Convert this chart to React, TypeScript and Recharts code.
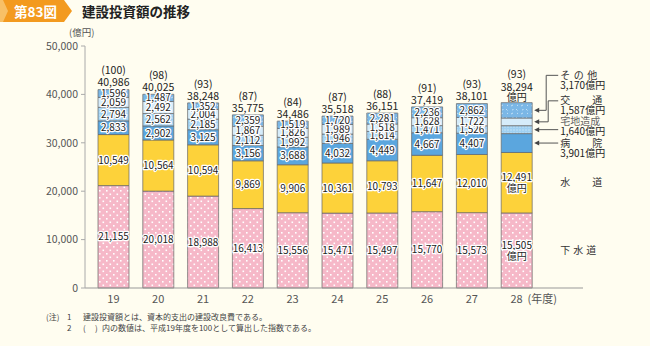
import React from 'react';
import { BarChart, Bar, XAxis, YAxis, LabelList } from 'recharts';

const years = ['19', '20', '21', '22', '23', '24', '25', '26', '27', '28'];
const gesui = [21155, 20018, 18988, 16413, 15556, 15471, 15497, 15770, 15573, 15505];
const suido = [10549, 10564, 10594, 9869, 9906, 10361, 10793, 11647, 12010, 12491];
const byoin = [2833, 2902, 3125, 3156, 3688, 4032, 4449, 4667, 4407, 3901];
const takuchi = [2794, 2562, 2185, 2112, 1992, 1946, 1614, 1471, 1526, 1640];
const kotsu = [2059, 2492, 2004, 1867, 1826, 1989, 1518, 1628, 1722, 1587];
const sonota = [1596, 1487, 1352, 2359, 1519, 1720, 2281, 2236, 2862, 3170];
const totals = [40986, 40025, 38248, 35775, 34486, 35518, 36151, 37419, 38101, 38294];
const indexes = [100, 98, 93, 87, 84, 87, 88, 91, 93, 93];
const yTicks = [0, 10000, 20000, 30000, 40000, 50000];

const data = years.map((year, i) => ({
    year,
    gesui: gesui[i],
    suido: suido[i],
    byoin: byoin[i],
    takuchi: takuchi[i],
    kotsu: kotsu[i],
    sonota: sonota[i],
}));

const FONT = '"Noto Sans CJK JP", "Noto Sans", sans-serif';
const fmt = (v: number) => v.toLocaleString('en-US');
const LAST = years.length - 1;

const halo: React.CSSProperties = {
    paintOrder: 'stroke',
    stroke: '#fff',
    strokeWidth: 2.5,
    strokeLinejoin: 'round',
};

// annotation layout for the last bar (offsets relative to the segment centre)
const series = [
    { key: 'gesui', values: gesui, fill: 'url(#pinkDots)', name: '下水道', nameLen: 36, kind: 'plain' },
    { key: 'suido', values: suido, fill: '#fdd23a', name: '水道', nameLen: 42, kind: 'plain' },
    { key: 'byoin', values: byoin, fill: '#5ba6de', name: '病院', nameLen: 42, kind: 'arrow', elbow: 0, nameDy: 0, amtDy: 10.5 },
    { key: 'takuchi', values: takuchi, fill: 'url(#blueDots)', name: '宅地造成', nameLen: 0, kind: 'arrow', elbow: 0, nameDy: -8.5, amtDy: 1.5 },
    { key: 'kotsu', values: kotsu, fill: '#d6ecfa', name: '交通', nameLen: 42, kind: 'arrow', elbow: 16, nameDy: -21, amtDy: -11 },
    { key: 'sonota', values: sonota, fill: 'url(#sparkle)', name: 'その他', nameLen: 37, kind: 'arrow', elbow: 14, nameDy: -35, amtDy: -25 },
];

const box = (props: any) => (props.viewBox && props.viewBox.width != null ? props.viewBox : props);

const makeSegLabel = (s: any) => (props: any) => {
    const { x, y, width, height } = box(props);
    const index = props.index;
    const cx = x + width / 2;
    const cy = y + height / 2;
    const v = s.values[index];
    if (index !== LAST) {
        return (
            <text x={cx} y={cy} dy="0.36em" textAnchor="middle" fontSize={10} fill="#222" fontFamily={FONT} style={halo}>
                {fmt(v)}
            </text>
        );
    }
    const right = x + width;
    const tx = right + 28;
    const nameProps = s.nameLen
        ? { textLength: s.nameLen, lengthAdjust: 'spacing' as const }
        : {};
    if (s.kind === 'plain') {
        return (
            <g fontFamily={FONT}>
                <text x={cx} y={cy - 5} dy="0.36em" textAnchor="middle" fontSize={10} fill="#222" style={halo}>{fmt(v)}</text>
                <text x={cx} y={cy + 5.5} dy="0.36em" textAnchor="middle" fontSize={10} fill="#222" style={halo}>億円</text>
                <text x={tx} y={cy} dy="0.36em" fontSize={10} fill="#333" {...nameProps}>{s.name}</text>
            </g>
        );
    }
    const lineY = s.elbow ? cy + s.nameDy : cy;
    const path = s.elbow
        ? `M${right + 6},${cy}H${right + s.elbow}V${lineY}H${right + 26}`
        : `M${right + 6},${cy}H${right + 26}`;
    return (
        <g fontFamily={FONT}>
            <path d={path} fill="none" stroke="#555" strokeWidth={1} />
            <polygon points={`${right + 2},${cy} ${right + 7},${cy - 2.5} ${right + 7},${cy + 2.5}`} fill="#444" />
            <text x={tx} y={cy + s.nameDy} dy="0.36em" fontSize={10} fill={s.key === 'takuchi' ? '#666' : '#333'} {...nameProps}>{s.name}</text>
            <text x={tx} y={cy + s.amtDy} dy="0.36em" fontSize={10} fill="#222">{fmt(v)}億円</text>
        </g>
    );
};

const TopLabel = (props: any) => {
    const { x, y, width } = box(props);
    const index = props.index;
    const cx = x + width / 2;
    if (index === LAST) {
        return (
            <g fontFamily={FONT} fontSize={10.5} fill="#222" textAnchor="middle">
                <text x={cx} y={y - 28} dy="0.36em">({indexes[index]})</text>
                <text x={cx} y={y - 15} dy="0.36em">{fmt(totals[index])}</text>
                <text x={cx} y={y - 5} dy="0.36em" fontSize={10}>億円</text>
            </g>
        );
    }
    return (
        <g fontFamily={FONT} fontSize={10.5} fill="#222" textAnchor="middle">
            <text x={cx} y={y - 19} dy="0.36em">({indexes[index]})</text>
            <text x={cx} y={y - 7} dy="0.36em">{fmt(totals[index])}</text>
        </g>
    );
};

const XTick = (props: any) => {
    const { x, y, payload, index } = props;
    return (
        <g fontFamily={FONT} fontSize={11} fill="#555">
            <text x={x} y={y} dy="0.71em" textAnchor="middle">{payload.value}</text>
            {index === LAST && (
                <text x={x + 11} y={y} dy="0.71em" textAnchor="start">(年度)</text>
            )}
        </g>
    );
};

const note: React.CSSProperties = { position: 'absolute', fontSize: 8, color: '#444', lineHeight: '12px', whiteSpace: 'nowrap' };

const App: React.FC = () => {
    return (
        <div style={{ position: 'absolute', left: 0, top: 0, width: 650, height: 346, background: '#fffdf0', fontFamily: FONT, overflow: 'hidden' }}>
            {/* title badge */}
            <div style={{ position: 'absolute', left: 0, top: 0, width: 72, height: 22, background: '#f39a1f', clipPath: 'polygon(0 0, 64px 0, 72px 50%, 64px 100%, 0 100%)' }} />
            <div style={{ position: 'absolute', left: 0, top: 0, width: 8, height: 22, background: '#f8c066', clipPath: 'polygon(0 0, 3px 0, 8px 50%, 3px 100%, 0 100%)' }} />
            <div style={{ position: 'absolute', left: 14, top: 2, fontSize: 13.5, fontWeight: 700, color: '#fff', lineHeight: '18px' }}>第83図</div>
            <div style={{ position: 'absolute', left: 82, top: 2, fontSize: 13.5, fontWeight: 700, color: '#222', lineHeight: '18px' }}>建設投資額の推移</div>
            <div style={{ position: 'absolute', left: 69, top: 26, fontSize: 9.5, color: '#555', lineHeight: '12px' }}>(億円)</div>

            <div style={{ position: 'absolute', left: 0, top: 0 }}>
                <BarChart width={650} height={346} data={data} margin={{ top: 46, right: 67, bottom: 28, left: 0 }} barSize={31}>
                    <defs>
                        <pattern id="pinkDots" width="7" height="7" patternUnits="userSpaceOnUse">
                            <rect width="7" height="7" fill="#f6b8c8" />
                            <rect x="1" y="1" width="1.6" height="1.6" fill="#fff" />
                            <rect x="4.5" y="4.5" width="1.6" height="1.6" fill="#fff" />
                        </pattern>
                        <pattern id="blueDots" width="3" height="3" patternUnits="userSpaceOnUse">
                            <rect width="3" height="3" fill="#9fd0f2" />
                            <rect x="0.5" y="0.5" width="1" height="1" fill="#e8f5fd" />
                        </pattern>
                        <pattern id="sparkle" width="10" height="8" patternUnits="userSpaceOnUse">
                            <rect width="10" height="8" fill="#7bb7e6" />
                            <path d="M1,2 l2,-1 M6,5 l1.5,1.5 M7,1 l1,0.8 M2,6 l1.5,-0.5" stroke="#d7ecfa" strokeWidth="0.8" />
                        </pattern>
                    </defs>
                    <XAxis
                        dataKey="year"
                        tick={<XTick />}
                        tickLine={false}
                        axisLine={{ stroke: '#999' }}
                        tickMargin={1}
                        padding={{ left: 6, right: 44 }}
                        interval={0}
                    />
                    <YAxis
                        width={85}
                        domain={[0, 50000]}
                        ticks={yTicks}
                        tickFormatter={fmt}
                        tick={{ fontSize: 10.5, fill: '#555', fontFamily: FONT }}
                        tickSize={4}
                        tickMargin={3}
                        axisLine={{ stroke: '#aaa' }}
                        tickLine={{ stroke: '#aaa' }}
                    />
                    {series.map((s, i) => (
                        <Bar
                            key={s.key}
                            dataKey={s.key}
                            stackId="a"
                            fill={s.fill}
                            stroke="#666"
                            strokeWidth={0.7}
                            isAnimationActive={false}
                        >
                            <LabelList dataKey={s.key} content={makeSegLabel(s)} />
                            {i === series.length - 1 && <LabelList dataKey={s.key} content={TopLabel} />}
                        </Bar>
                    ))}
                </BarChart>
            </div>

            {/* notes */}
            <div style={{ ...note, left: 46, top: 311 }}>(注)</div>
            <div style={{ ...note, left: 67, top: 311 }}>1</div>
            <div style={{ ...note, left: 83, top: 311 }}>建設投資額とは、資本的支出の建設改良費である。</div>
            <div style={{ ...note, left: 67, top: 322 }}>2</div>
            <div style={{ ...note, left: 83, top: 322 }}>(</div>
            <div style={{ ...note, left: 95, top: 322 }}>)</div>
            <div style={{ ...note, left: 102, top: 322 }}>内の数値は、平成19年度を100として算出した指数である。</div>
        </div>
    );
};

export default App;
